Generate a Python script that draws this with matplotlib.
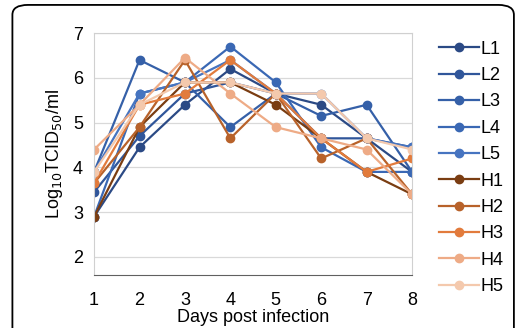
import matplotlib

matplotlib.use("Agg")
import matplotlib.pyplot as plt  # noqa: E402
from matplotlib.patches import FancyBboxPatch  # noqa: E402

plt.rcParams["font.family"] = ["Liberation Sans", "DejaVu Sans"]

# data
days = [1, 2, 3, 4, 5, 6, 7, 8]
series_names = ["L1", "L2", "L3", "L4", "L5", "H1", "H2", "H3", "H4", "H5"]
L1 = [2.9, 4.45, 5.4, 6.2, 5.65, 5.4, 4.65, 3.9]
L2 = [3.45, 4.7, 5.65, 5.9, 5.65, 4.65, 4.65, 4.45]
L3 = [3.9, 6.4, 5.9, 4.9, 5.65, 5.15, 5.4, 3.9]
L4 = [2.9, 5.65, 5.9, 6.7, 5.9, 4.45, 3.9, 3.9]
L5 = [3.9, 5.65, 5.9, 6.4, 5.65, 5.65, 4.65, 4.45]
H1 = [2.9, 4.9, 5.9, 5.9, 5.4, 4.65, 3.9, 3.4]
H2 = [3.65, 4.9, 6.4, 4.65, 5.65, 4.2, 4.65, 3.4]
H3 = [3.65, 5.4, 5.65, 6.4, 5.65, 4.65, 3.9, 4.2]
H4 = [4.4, 5.4, 6.45, 5.65, 4.9, 4.65, 4.4, 3.4]
H5 = [3.9, 5.4, 5.9, 5.9, 5.65, 5.65, 4.65, 4.4]
values = [L1, L2, L3, L4, L5, H1, H2, H3, H4, H5]
colors = ["#2b4a85", "#30569a", "#3560a8", "#3a68b4", "#4674c0",
          "#7a3d12", "#b8622a", "#e27b3c", "#eeab86", "#f4c9ad"]

fig = plt.figure(figsize=(5.17, 3.28), dpi=100)
ax = fig.add_axes([0.182, 0.162, 0.615, 0.737])

# rounded outer frame
frame = FancyBboxPatch((0.024, -0.1), 0.97, 1.085, boxstyle="round,pad=0,rounding_size=0.03",
                       transform=fig.transFigure, fill=False, edgecolor="black",
                       linewidth=1.3, clip_on=False)
fig.patches.append(frame)

for name, vals, col in zip(series_names, values, colors):
    ax.plot(days, vals, marker="o", markersize=6, linewidth=1.6, color=col, label=name)

ax.set_xlim(1, 8)
ax.set_ylim(1.6, 7)
ax.set_xticks(days)
ax.set_yticks([2, 3, 4, 5, 6, 7])
ax.tick_params(length=0, labelsize=13)
ax.tick_params(axis="x", pad=12)
ax.tick_params(axis="y", pad=8)
ax.yaxis.grid(True, color="#d9d9d9", linewidth=0.9)
ax.set_axisbelow(True)
for side in ["left", "top", "right"]:
    ax.spines[side].set_color("#d0d0d0")
ax.spines["bottom"].set_color("#606060")

ax.set_xlabel("Days post infection", fontsize=13, labelpad=0)
ax.set_ylabel("Log$_{10}$TCID$_{50}$/ml", fontsize=13, labelpad=6)

fig.legend(loc="upper left", bbox_to_anchor=(0.835, 0.898), frameon=False,
           fontsize=13, handlelength=2.2, handletextpad=0.1, labelspacing=0.52,
           borderaxespad=0)

fig.savefig("out.png", dpi=100)
